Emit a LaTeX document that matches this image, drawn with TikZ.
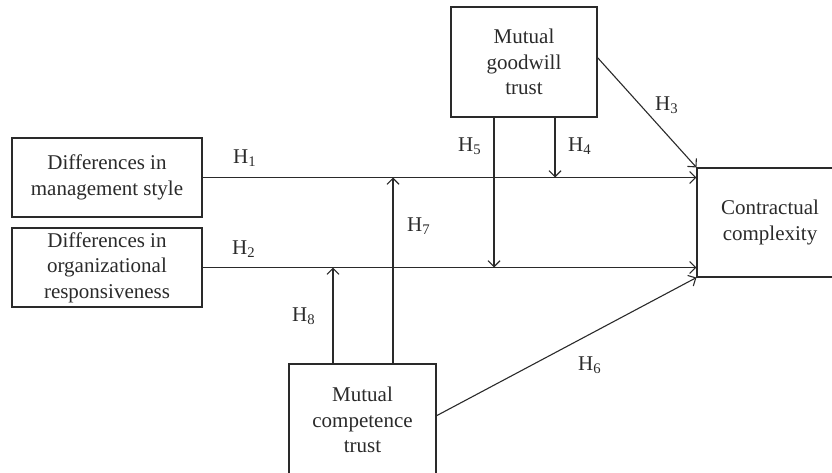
\documentclass[tikz,border=0pt]{standalone}
\usepackage{fontspec}
\setmainfont{Liberation Serif}
\usetikzlibrary{arrows.meta}
\definecolor{ink}{HTML}{2A2A2A}
\tikzset{
  box/.style={draw=ink, line width=1.1pt, inner sep=0pt, align=center, text=ink,
    font=\fontsize{21}{25.5}\selectfont},
  arr/.style={draw=ink, line width=1.1pt, -{Straight Barb[length=6pt,width=12pt,line width=1.1pt]}},
  ln/.style={draw=ink, line width=1.1pt},
  hlab/.style={anchor=base west, inner sep=0pt, text=ink, font=\fontsize{21}{24}\selectfont}
}
\begin{document}
\begin{tikzpicture}[x=1pt,y=-1pt]
\useasboundingbox (0,0) rectangle (832,472);
% boxes
\node[box, minimum width=190pt, minimum height=79pt] (dms) at (107,177.5) {Differences in\\management style};
\node[box, minimum width=190pt, minimum height=79pt] (dor) at (107,267.5) {Differences in\\organizational\\responsiveness};
\node[box, minimum width=146pt, minimum height=110pt] (mgt) at (524,62) {Mutual\\goodwill\\trust};
\node[box, minimum width=146pt, minimum height=109pt] (cc) at (770,222.5) {Contractual\\complexity};
\node[box, minimum width=147pt, minimum height=112pt] (mct) at (362.5,420) {Mutual\\competence\\trust};
% junction coordinates on the main paths
\coordinate (j4) at (555,177.5);
\coordinate (j5) at (494,267.5);
\coordinate (j7) at (393,177.5);
\coordinate (j8) at (333,267.5);
\coordinate (g3) at (597,57);
\coordinate (c6) at (436,416);
% connectors
\draw[arr] (dms.east) -- (cc.west |- dms.east);
\draw[arr] (dor.east) -- (cc.west |- dor.east);
\draw[arr] (g3) -- (cc.north west);
\draw[arr] (mgt.south -| j4) -- (j4);
\draw[arr] (mgt.south -| j5) -- (j5);
\draw[arr] (c6) -- (cc.south west);
\draw[arr] (mct.north -| j7) -- (j7);
\draw[arr] (mct.north -| j8) -- (j8);
% labels
\node[hlab] (h1) at (233,163) {H\textsubscript{1}};
\node[hlab] (h2) at (232,254) {H\textsubscript{2}};
\node[hlab] (h3) at (655,110) {H\textsubscript{3}};
\node[hlab] (h4) at (568,151) {H\textsubscript{4}};
\node[hlab] (h5) at (458,151) {H\textsubscript{5}};
\node[hlab] (h6) at (578,370) {H\textsubscript{6}};
\node[hlab] (h7) at (407,231) {H\textsubscript{7}};
\node[hlab] (h8) at (292,321) {H\textsubscript{8}};
\end{tikzpicture}
\end{document}
